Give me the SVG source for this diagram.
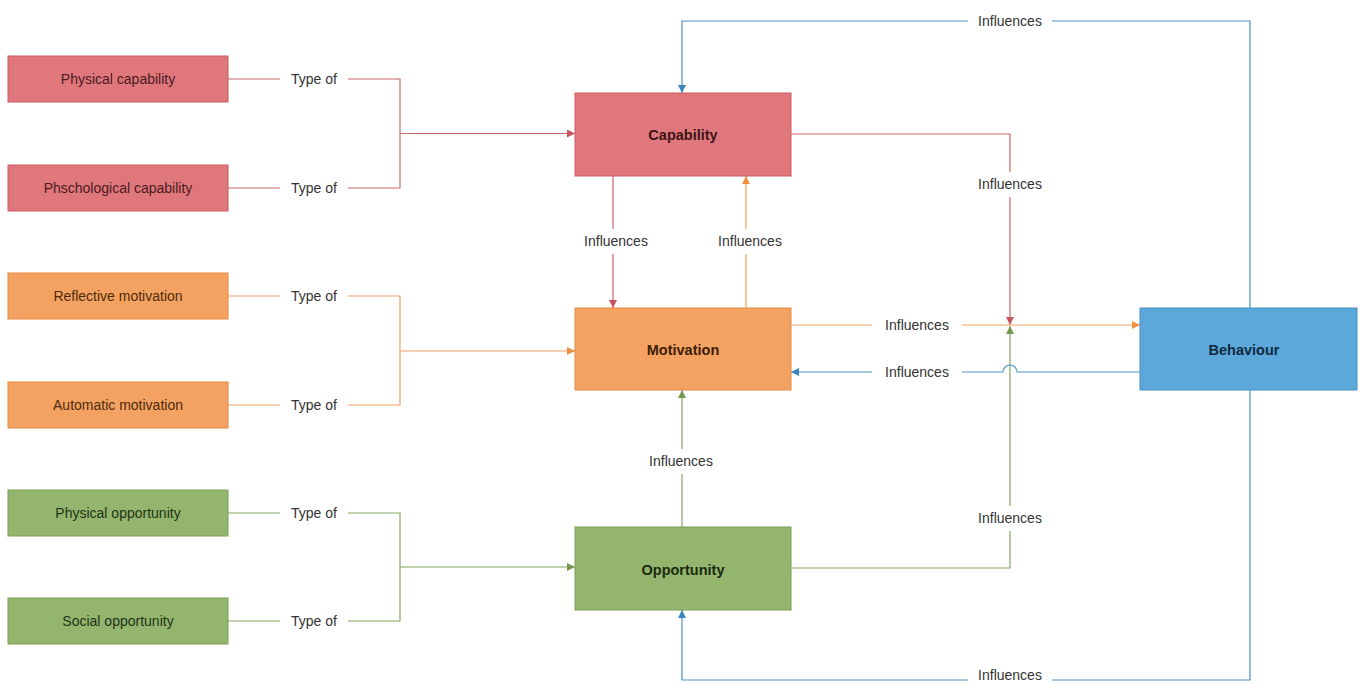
<svg xmlns="http://www.w3.org/2000/svg" width="1360" height="684" viewBox="0 0 1360 684">
<style>
.lbl{font-family:"Liberation Sans",Arial,sans-serif;font-size:14px;fill:#333;text-anchor:middle;dominant-baseline:central}
.small{font-family:"Liberation Sans",Arial,sans-serif;font-size:14px;text-anchor:middle;dominant-baseline:central}
.big{font-family:"Liberation Sans",Arial,sans-serif;font-size:14.5px;font-weight:bold;text-anchor:middle;dominant-baseline:central}
.red{fill:#e0777c;stroke:#cc5c62;stroke-width:1}
.org{fill:#f4a261;stroke:#e48a45;stroke-width:1}
.grn{fill:#93b56d;stroke:#7d9f58;stroke-width:1}
.blu{fill:#5ca8da;stroke:#4790c4;stroke-width:1}
.c{fill:none;stroke-width:1.2}
.cr{stroke:#d0666d}.co{stroke:#f0a060}.cg{stroke:#86a564}.cb{stroke:#4a93c6}
</style>
<defs>
<marker id="ar" viewBox="0 0 10 10" refX="10" refY="5" markerWidth="8" markerHeight="8" markerUnits="userSpaceOnUse" orient="auto"><path d="M0,0L10,5L0,10z" fill="#c8555c"/></marker>
<marker id="ao" viewBox="0 0 10 10" refX="10" refY="5" markerWidth="8" markerHeight="8" markerUnits="userSpaceOnUse" orient="auto"><path d="M0,0L10,5L0,10z" fill="#ee9040"/></marker>
<marker id="ag" viewBox="0 0 10 10" refX="10" refY="5" markerWidth="8" markerHeight="8" markerUnits="userSpaceOnUse" orient="auto"><path d="M0,0L10,5L0,10z" fill="#76984f"/></marker>
<marker id="ab" viewBox="0 0 10 10" refX="10" refY="5" markerWidth="8" markerHeight="8" markerUnits="userSpaceOnUse" orient="auto"><path d="M0,0L10,5L0,10z" fill="#3a85bd"/></marker>
</defs>
<rect width="1360" height="684" fill="#fff"/>
<g id="connectors">
<path class="c cr" d="M228,79H280M348,79H400V188H348M280,188H228"/>
<path class="c cr" d="M400,133.5H575" marker-end="url(#ar)"/>
<text class="lbl" x="314" y="79">Type of</text>
<text class="lbl" x="314" y="188">Type of</text>
<path class="c co" d="M228,296H280M348,296H400V405H348M280,405H228"/>
<path class="c co" d="M400,351H575" marker-end="url(#ao)"/>
<text class="lbl" x="314" y="296">Type of</text>
<text class="lbl" x="314" y="405">Type of</text>
<path class="c cg" d="M228,513H280M348,513H400V621H348M280,621H228"/>
<path class="c cg" d="M400,567H575" marker-end="url(#ag)"/>
<text class="lbl" x="314" y="513">Type of</text>
<text class="lbl" x="314" y="621">Type of</text>
<path class="c cr" d="M613,176V229M613,254V308" marker-end="url(#ar)"/>
<text class="lbl" x="616" y="241">Influences</text>
<path class="c co" d="M746,308V254M746,229V176" marker-end="url(#ao)"/>
<text class="lbl" x="750" y="241">Influences</text>
<path class="c cg" d="M682,527V474M682,449V390" marker-end="url(#ag)"/>
<text class="lbl" x="681" y="461">Influences</text>
<path class="c cr" d="M791,134H1010V172M1010,197V325" marker-end="url(#ar)"/>
<text class="lbl" x="1010" y="184">Influences</text>
<path class="c cg" d="M791,568H1010V531M1010,506V326" marker-end="url(#ag)"/>
<text class="lbl" x="1010" y="518">Influences</text>
<path class="c co" d="M791,325H872M962,325H1140" marker-end="url(#ao)"/>
<text class="lbl" x="917" y="325">Influences</text>
<path class="c cb" d="M1140,372H1017A7,7 0 0 0 1003,372H962M872,372H791" marker-end="url(#ab)"/>
<text class="lbl" x="917" y="372">Influences</text>
<path class="c cb" d="M1250,308V21H1052M968,21H682V93" marker-end="url(#ab)"/>
<text class="lbl" x="1010" y="21">Influences</text>
<path class="c cb" d="M1250,390V680H1052M968,680H682V610" marker-end="url(#ab)"/>
<text class="lbl" x="1010" y="675">Influences</text>
</g>
<g id="physical-capability"><rect class="red" x="8" y="56" width="220" height="46"/><text class="small" x="118" y="79" fill="#4a1a1c">Physical capability</text></g>
<g id="psychological-capability"><rect class="red" x="8" y="165" width="220" height="46"/><text class="small" x="118" y="188" fill="#4a1a1c">Phschological capability</text></g>
<g id="reflective-motivation"><rect class="org" x="8" y="273" width="220" height="46"/><text class="small" x="118" y="296" fill="#4d2a0c">Reflective motivation</text></g>
<g id="automatic-motivation"><rect class="org" x="8" y="382" width="220" height="46"/><text class="small" x="118" y="405" fill="#4d2a0c">Automatic motivation</text></g>
<g id="physical-opportunity"><rect class="grn" x="8" y="490" width="220" height="46"/><text class="small" x="118" y="513" fill="#243318">Physical opportunity</text></g>
<g id="social-opportunity"><rect class="grn" x="8" y="598" width="220" height="46"/><text class="small" x="118" y="621" fill="#243318">Social opportunity</text></g>
<g id="capability"><rect class="red" x="575" y="93" width="216" height="83"/><text class="big" x="683" y="135" fill="#3d1315">Capability</text></g>
<g id="motivation"><rect class="org" x="575" y="308" width="216" height="82"/><text class="big" x="683" y="350" fill="#3d2008">Motivation</text></g>
<g id="opportunity"><rect class="grn" x="575" y="527" width="216" height="83"/><text class="big" x="683" y="570" fill="#1c2a10">Opportunity</text></g>
<g id="behaviour"><rect class="blu" x="1140" y="308" width="217" height="82"/><text class="big" x="1244" y="350" fill="#0f2a40">Behaviour</text></g>
</svg>
